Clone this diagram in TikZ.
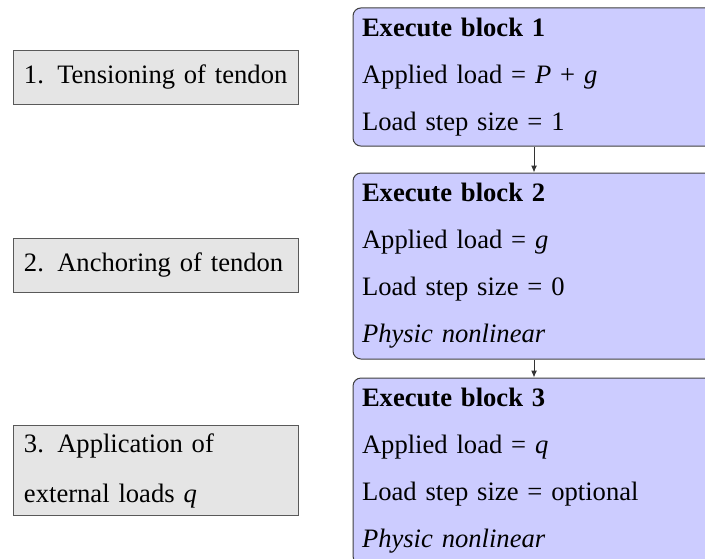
\documentclass[tikz,border=0pt]{standalone}
\usepackage{fontspec}
\setmainfont{Liberation Serif}
\usetikzlibrary{arrows.meta}
\tikzset{
  stage/.style={draw=black!65, line width=0.5pt, fill=black!10,
    inner xsep=5.5pt, inner ysep=4pt, minimum width=142.5pt,
    minimum height=27pt, text width=131.5pt, align=left,
    font=\fontsize{13.3}{25}\selectfont},
  block/.style={draw=black!75, line width=0.5pt, fill=blue!20,
    rounded corners=4pt, inner xsep=4.5pt, inner ysep=5pt,
    minimum width=181pt, text width=172pt, align=left,
    font=\fontsize{13.3}{23.5}\selectfont},
  flow/.style={draw=black!80, line width=0.5pt, -{Latex[length=3.5pt,width=3pt]}}
}
\begin{document}
\begin{tikzpicture}[x=0.5pt,y=-0.5pt]
  \useasboundingbox (0,0) rectangle (705,558);
  \clip (0,0) rectangle (705,558);

  % execution blocks
  \node[block, minimum height=69pt] (b1) at (534,77)
    {\textbf{Execute block 1}\\
     Applied load = \textit{P} + \textit{g}\\
     Load step size = 1};
  \node[block, minimum height=93pt] (b2) at (534,266)
    {\textbf{Execute block 2}\\
     Applied load = \textit{g}\\
     Load step size = 0\\
     \textit{Physic nonlinear}};
  \node[block, minimum height=93pt] (b3) at (534,471)
    {\textbf{Execute block 3}\\
     Applied load = \textit{q}\\
     Load step size = optional\\
     \textit{Physic nonlinear}};

  % stage labels
  \node[stage] (s1) at (155.5,77) {\mbox{1. Tensioning of tendon}};
  \node[stage] (s2) at (155.5,265) {\mbox{2. Anchoring of tendon}};
  \node[stage] (s3) at (155.5,470.5) {3. Application of\\ external loads \textit{q}};

  % sequence
  \draw[flow] (b1.south) -- (b2.north);
  \draw[flow] (b2.south) -- (b3.north);
\end{tikzpicture}
\end{document}
